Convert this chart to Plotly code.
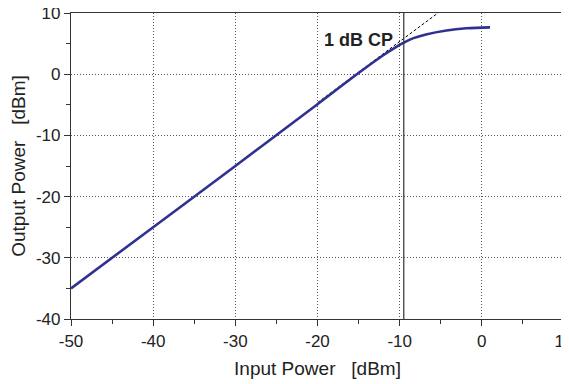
import plotly.graph_objects as go

# Data
pin = [-50, -40, -30, -20, -15, -12, -10.5, -9.5, -8.4, -6.8, -4.3, -1.9, 1]
pout = [-35, -25, -15, -4.9, 0.2, 3.1, 4.4, 5.15, 5.85, 6.5, 7.15, 7.5, 7.65]

lin_in = [-20, -5.34]
lin_out = [-4.66, 10]

cp_x = -9.5
xticks = [-50, -40, -30, -20, -10, 0, 10]
xtick_text = ["-50", "-40", "-30", "-20", "-10", "0", "10"]
yticks = [-40, -30, -20, -10, 0, 10]
ytick_text = ["-40", "-30", "-20", "-10", "0", "10"]

FONT = "Liberation Sans, Arial, sans-serif"
TXT = "#222222"

fig = go.Figure()
fig.add_trace(go.Scatter(x=lin_in, y=lin_out, mode="lines",
                         line=dict(color="black", width=1, dash="3px,2px"),
                         showlegend=False, hoverinfo="skip"))
fig.add_trace(go.Scatter(x=pin, y=pout, mode="lines", line_shape="spline",
                         line=dict(color="#2e3192", width=2.6), showlegend=False))
fig.add_shape(type="line", x0=cp_x, x1=cp_x, y0=-40, y1=10, xref="x", yref="y",
              line=dict(color="#333333", width=1.2))
fig.add_annotation(x=cp_x, y=5.6, xref="x", yref="y", text="<b>1 dB CP</b>",
                   showarrow=False, xanchor="right", yanchor="middle", xshift=-9,
                   font=dict(size=18, color=TXT, family=FONT))

axis_common = dict(showline=True, linecolor="#333333", linewidth=1.2, mirror=True,
                   showgrid=True, gridcolor="#555555", griddash="1px,2px", gridwidth=1,
                   ticks="outside", ticklen=6, tickcolor="#333333",
                   tickfont=dict(size=17, color=TXT, family=FONT),
                   ticklabeloverflow="allow",
                   zeroline=False,
                   minor=dict(ticks="outside", ticklen=4, tickcolor="#333333", dtick=5, showgrid=False))

fig.update_xaxes(range=[-50, 10], tickvals=xticks, ticktext=xtick_text, automargin="bottom",
                 title=dict(text="Input Power\u00a0\u00a0\u00a0[dBm]", standoff=12,
                            font=dict(size=19, color=TXT, family=FONT)),
                 **axis_common)
fig.update_yaxes(range=[-40, 10], tickvals=yticks, ticktext=ytick_text, automargin="left",
                 title=dict(text="Output Power\u00a0\u00a0\u00a0[dBm]", standoff=6,
                            font=dict(size=19, color=TXT, family=FONT)),
                 **axis_common)

fig.update_layout(width=561, height=376, margin=dict(l=63, r=4.5, t=5.3, b=64.7),
                  plot_bgcolor="white", paper_bgcolor="white",
                  font=dict(family=FONT))
fig.write_html("out.html")
